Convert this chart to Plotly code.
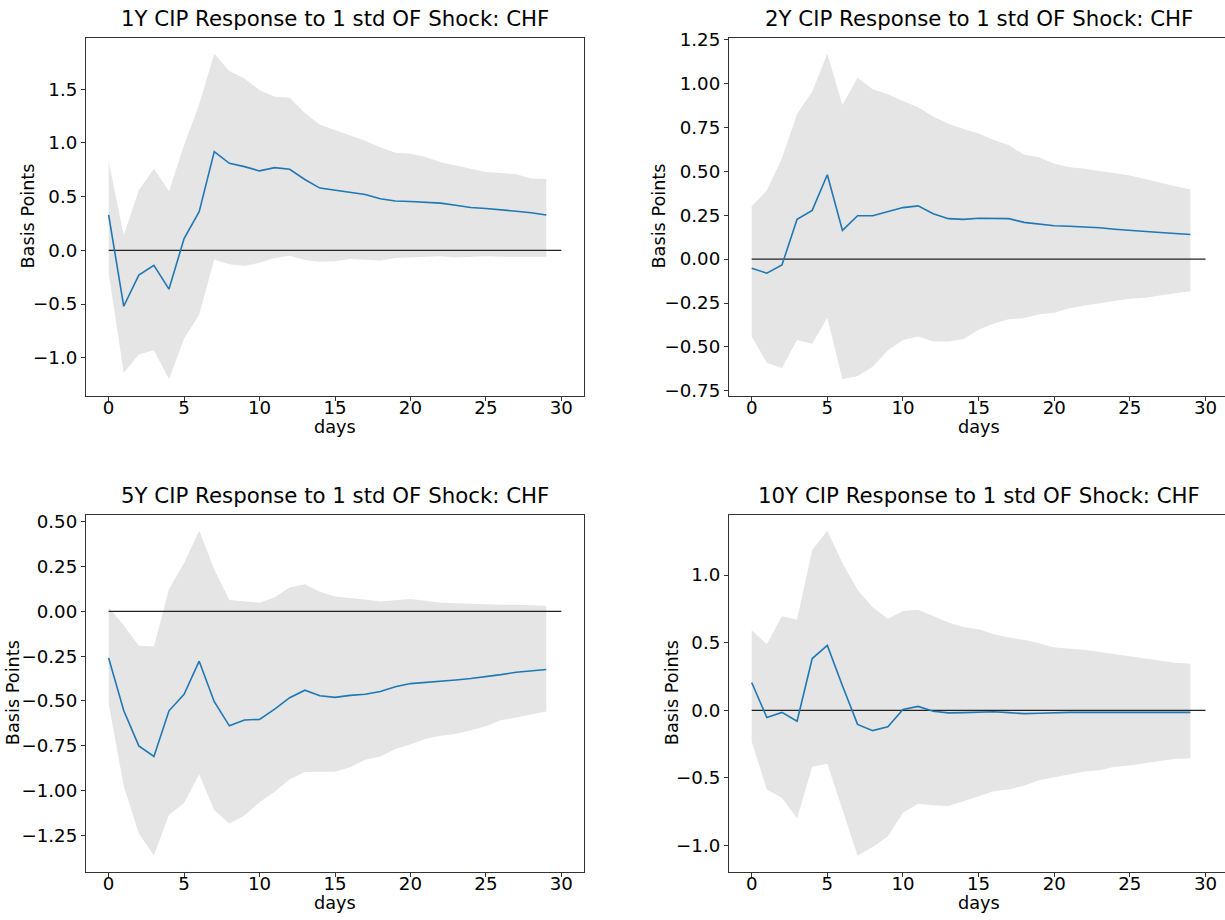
import plotly.graph_objects as go

W, H = 1225, 920
days = list(range(30))

titles = ["1Y CIP Response to 1 std OF Shock: CHF",
          "2Y CIP Response to 1 std OF Shock: CHF",
          "5Y CIP Response to 1 std OF Shock: CHF",
          "10Y CIP Response to 1 std OF Shock: CHF"]

irf_1y = [0.33, -0.52, -0.23, -0.14, -0.36, 0.11, 0.36, 0.92, 0.81, 0.78,
          0.74, 0.77, 0.755, 0.66, 0.58, 0.56, 0.545, 0.52, 0.48, 0.46,
          0.455, 0.45, 0.44, 0.42, 0.40, 0.39, 0.38, 0.365, 0.35, 0.33]
up_1y = [0.83, 0.14, 0.56, 0.76, 0.55, 0.98, 1.36, 1.83, 1.67, 1.60,
         1.49, 1.43, 1.42, 1.28, 1.17, 1.12, 1.07, 1.02, 0.96, 0.91,
         0.90, 0.87, 0.82, 0.79, 0.755, 0.73, 0.72, 0.71, 0.67, 0.665]
lo_1y = [-0.205, -1.14, -0.97, -0.93, -1.20, -0.82, -0.60, -0.085, -0.13, -0.145,
         -0.115, -0.07, -0.05, -0.09, -0.105, -0.10, -0.08, -0.09, -0.095, -0.07,
         -0.067, -0.06, -0.055, -0.065, -0.06, -0.055, -0.058, -0.058, -0.06, -0.06]

irf_2y = [-0.052, -0.080, -0.034, 0.226, 0.277, 0.48, 0.163, 0.247, 0.247, 0.271,
          0.293, 0.303, 0.258, 0.23, 0.226, 0.232, 0.232, 0.23, 0.209, 0.198,
          0.19, 0.187, 0.183, 0.178, 0.17, 0.163, 0.155, 0.151, 0.146, 0.14]
up_2y = [0.30, 0.39, 0.574, 0.826, 0.953, 1.168, 0.877, 1.032, 0.966, 0.938,
         0.90, 0.864, 0.811, 0.77, 0.74, 0.714, 0.677, 0.649, 0.593, 0.579,
         0.542, 0.523, 0.514, 0.50, 0.49, 0.475, 0.456, 0.434, 0.415, 0.396]
lo_2y = [-0.441, -0.59, -0.619, -0.46, -0.482, -0.333, -0.684, -0.665, -0.613, -0.52,
         -0.46, -0.441, -0.469, -0.469, -0.454, -0.402, -0.366, -0.342, -0.336, -0.314,
         -0.305, -0.28, -0.264, -0.25, -0.239, -0.226, -0.22, -0.206, -0.194, -0.183]

irf_5y = [-0.26, -0.553, -0.751, -0.81, -0.555, -0.463, -0.278, -0.504, -0.639, -0.606,
          -0.603, -0.546, -0.482, -0.44, -0.471, -0.48, -0.469, -0.463, -0.447, -0.421,
          -0.403, -0.397, -0.392, -0.383, -0.375, -0.366, -0.353, -0.34, -0.333, -0.324]
up_5y = [0.024, -0.077, -0.192, -0.196, 0.125, 0.271, 0.45, 0.234, 0.064, 0.055,
         0.048, 0.079, 0.134, 0.152, 0.11, 0.084, 0.077, 0.066, 0.055, 0.064,
         0.07, 0.06, 0.048, 0.046, 0.042, 0.038, 0.037, 0.037, 0.035, 0.031]
lo_5y = [-0.516, -0.974, -1.24, -1.363, -1.136, -1.07, -0.91, -1.11, -1.185, -1.14,
         -1.066, -1.007, -0.938, -0.897, -0.896, -0.896, -0.87, -0.828, -0.81, -0.769,
         -0.742, -0.712, -0.694, -0.685, -0.663, -0.641, -0.608, -0.59, -0.575, -0.559]

irf_10y = [0.206, -0.053, -0.015, -0.08, 0.383, 0.48, 0.182, -0.104, -0.15, -0.121,
           0.007, 0.029, -0.007, -0.019, -0.017, -0.015, -0.01, -0.017, -0.024, -0.022,
           -0.017, -0.015, -0.015, -0.015, -0.017, -0.017, -0.015, -0.015, -0.015, -0.015]
up_10y = [0.593, 0.489, 0.695, 0.671, 1.186, 1.327, 1.09, 0.889, 0.763, 0.678,
          0.734, 0.743, 0.697, 0.649, 0.617, 0.60, 0.562, 0.538, 0.521, 0.496,
          0.465, 0.455, 0.448, 0.431, 0.416, 0.40, 0.383, 0.368, 0.351, 0.344]
lo_10y = [-0.23, -0.586, -0.647, -0.80, -0.417, -0.395, -0.734, -1.073, -1.01, -0.932,
          -0.758, -0.69, -0.702, -0.707, -0.673, -0.637, -0.598, -0.586, -0.557, -0.516,
          -0.496, -0.472, -0.453, -0.443, -0.417, -0.407, -0.392, -0.375, -0.358, -0.356]

x_ticks = [0, 5, 10, 15, 20, 25, 30]
y_ticks = [[-1.0, -0.5, 0.0, 0.5, 1.0, 1.5],
           [-0.75, -0.5, -0.25, 0.0, 0.25, 0.5, 0.75, 1.0, 1.25],
           [-1.25, -1.0, -0.75, -0.5, -0.25, 0.0, 0.25, 0.5],
           [-1.0, -0.5, 0.0, 0.5, 1.0]]
y_fmt = [".1f", ".2f", ".2f", ".1f"]

series = [(irf_1y, up_1y, lo_1y), (irf_2y, up_2y, lo_2y),
          (irf_5y, up_5y, lo_5y), (irf_10y, up_10y, lo_10y)]

# panel boxes in pixels: (left, right, top, bottom)
boxes = [(86, 584, 29, 393), (729, 1225, 29, 393),
         (86, 584, 514, 877), (729, 1225, 514, 877)]
ylabel_x = [28, 659, 13, 672]
xr_full = [-1.5, 31.5]
xr_right = [-1.5, 31.29]

FONT = "DejaVu Sans"
TICK = 18.2
LAB = 17.7
fig = go.Figure()
annotations = []

for k, ((irf, up, lo), (l, r, t, b)) in enumerate(zip(series, boxes)):
    xa = "x" if k == 0 else f"x{k+1}"
    ya = "y" if k == 0 else f"y{k+1}"
    fig.add_trace(go.Scatter(x=days, y=lo, mode="lines", line=dict(width=0, color="#e5e5e5"),
                             xaxis=xa, yaxis=ya, showlegend=False, hoverinfo="skip"))
    fig.add_trace(go.Scatter(x=days, y=up, mode="lines", line=dict(width=0, color="#e5e5e5"),
                             fill="tonexty", fillcolor="#e5e5e5",
                             xaxis=xa, yaxis=ya, showlegend=False, hoverinfo="skip"))
    fig.add_trace(go.Scatter(x=[0, 30], y=[0, 0], mode="lines", line=dict(width=1.3, color="#222222"),
                             xaxis=xa, yaxis=ya, showlegend=False))
    fig.add_trace(go.Scatter(x=days, y=irf, mode="lines", line=dict(width=1.6, color="#1f77b4"),
                             xaxis=xa, yaxis=ya, showlegend=False))

    dmin = min(lo + [0]); dmax = max(up + [0])
    span = dmax - dmin
    yr = [dmin - 0.05 * span, dmax + 0.05 * span]
    right_panel = (k % 2 == 1)
    xdom = [l / W, r / W]
    ydom = [1 - b / H, 1 - t / H]
    axcommon = dict(showline=True, linecolor="#333333", linewidth=1.2, ticks="outside",
                    ticklen=4, tickwidth=1, tickcolor="#333333", showgrid=False, zeroline=False,
                    tickfont=dict(family=FONT, size=TICK, color="#000000"))
    xkey = "xaxis" if k == 0 else f"xaxis{k+1}"
    ykey = "yaxis" if k == 0 else f"yaxis{k+1}"
    fig.update_layout(**{
        xkey: dict(domain=xdom, range=xr_right if right_panel else xr_full, anchor=ya,
                   tickvals=x_ticks, mirror=True, ticklabelstandoff=-9, **axcommon),
        ykey: dict(domain=ydom, range=yr, anchor=xa, tickvals=y_ticks[k], tickformat=y_fmt[k],
                   mirror=not right_panel, **axcommon),
    })
    cx = (l + (1228 if right_panel else r)) / 2
    annotations.append(dict(text=titles[k], x=cx / W, y=1 - (t - 5) / H, xref="paper", yref="paper",
                            xanchor="center", yanchor="bottom", showarrow=False,
                            font=dict(family=FONT, size=21.3, color="#000000")))
    annotations.append(dict(text="days", x=cx / W, y=1 - (b + 20) / H, xref="paper", yref="paper",
                            xanchor="center", yanchor="top", showarrow=False,
                            font=dict(family=FONT, size=LAB, color="#000000")))
    annotations.append(dict(text="Basis Points", x=ylabel_x[k] / W, y=1 - ((t + b) / 2) / H,
                            xref="paper", yref="paper", xanchor="center", yanchor="middle",
                            textangle=-90, showarrow=False,
                            font=dict(family=FONT, size=LAB, color="#000000")))

fig.update_layout(width=W, height=H, margin=dict(l=0, r=0, t=0, b=0),
                  paper_bgcolor="white", plot_bgcolor="white",
                  annotations=annotations, font=dict(family=FONT))
fig.write_html("out.html")
